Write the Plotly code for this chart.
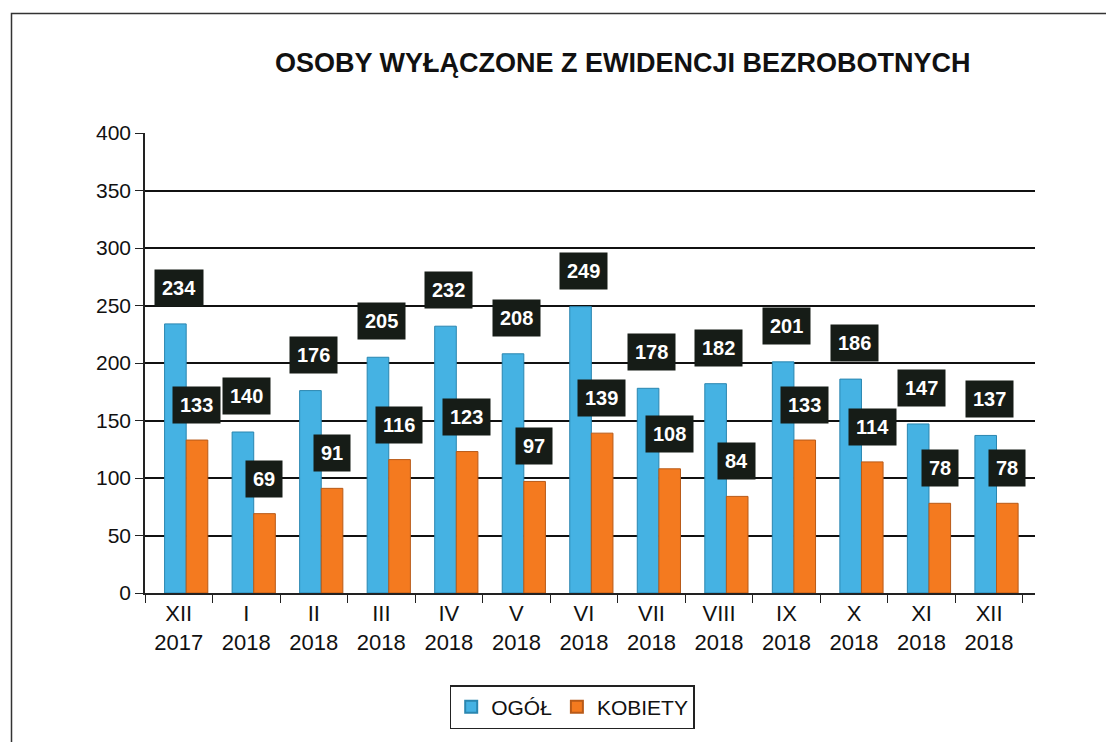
import plotly.graph_objects as go

categories = ["XII<br>2017", "I<br>2018", "II<br>2018", "III<br>2018", "IV<br>2018", "V<br>2018",
              "VI<br>2018", "VII<br>2018", "VIII<br>2018", "IX<br>2018", "X<br>2018", "XI<br>2018", "XII<br>2018"]
ogol = [234, 140, 176, 205, 232, 208, 249, 178, 182, 201, 186, 147, 137]
kobiety = [133, 69, 91, 116, 123, 97, 139, 108, 84, 133, 114, 78, 78]
y_ticks = [0, 50, 100, 150, 200, 250, 300, 350, 400]

BLUE = "#45B2E3"
ORANGE = "#F47A1F"
LABEL_BG = "#161c17"
FONT = "Liberation Sans Narrow, Arial Narrow, Liberation Sans, Arial, sans-serif"

fig = go.Figure()
fig.add_trace(go.Bar(x=categories, y=ogol, name="OGÓŁ", offset=-0.21, width=0.32,
                     marker=dict(color=BLUE, line=dict(color="#2a86b0", width=1))))
fig.add_trace(go.Bar(x=categories, y=kobiety, name="KOBIETY", offset=0.11, width=0.32,
                     marker=dict(color=ORANGE, line=dict(color="#b85a18", width=1))))

annotations = []
for c, v in zip(categories, ogol):
    annotations.append(dict(x=c, y=v, text="<b>%d</b>" % v, showarrow=False, xshift=0, yshift=36,
                            bgcolor=LABEL_BG, borderpad=7, font=dict(color="white", size=20, family="Liberation Sans, Arial")))
for c, v in zip(categories, kobiety):
    annotations.append(dict(x=c, y=v, text="<b>%d</b>" % v, showarrow=False, xshift=18, yshift=35,
                            bgcolor=LABEL_BG, borderpad=7, font=dict(color="white", size=20, family="Liberation Sans, Arial")))
annotations.append(dict(xref="paper", yref="paper", x=0.537, y=1.152, xanchor="center", yanchor="middle",
                        showarrow=False, text="<b>OSOBY WYŁĄCZONE Z EWIDENCJI BEZROBOTNYCH</b>",
                        font=dict(size=27, color="#111", family="Liberation Sans, Arial")))

fig.update_layout(
    width=1114, height=742,
    margin=dict(l=137, r=87, t=125, b=157),
    paper_bgcolor="white", plot_bgcolor="white",
    barmode="overlay",
    font=dict(family=FONT, color="#111", size=20),
    annotations=annotations,
    legend=dict(orientation="h", x=0.48, xanchor="center", y=-0.2, yanchor="top",
                bordercolor="#222", borderwidth=1.5, font=dict(size=21, family="Liberation Sans, Arial"),
                itemsizing="constant", itemwidth=30, tracegroupgap=0),
    shapes=[
        dict(type="rect", xref="paper", yref="y", x0=0, x1=1, y0=0, y1=-5, fillcolor="#a0a0a0",
             line=dict(width=0), layer="below"),
        dict(type="rect", xref="paper", yref="paper", x0=-0.15, x1=1.2, y0=1.26, y1=-0.4,
             line=dict(color="#333", width=1.5), fillcolor="rgba(0,0,0,0)"),
    ],
)
fig.update_yaxes(range=[0, 400], tickvals=y_ticks, showgrid=True, gridcolor="#111", gridwidth=2,
                 showline=True, linecolor="#222", linewidth=1.5, ticks="outside", ticklen=8, tickcolor="#222",
                 zeroline=False, tickfont=dict(size=21, family="Liberation Sans, Arial"))
fig.update_xaxes(range=[-0.5, 12.68], showline=True, linecolor="#222", linewidth=1.5, ticks="outside",
                 ticklen=8, tickcolor="#222", tickson="boundaries", tickfont=dict(size=22), mirror=False)

fig.write_html("out.html")
